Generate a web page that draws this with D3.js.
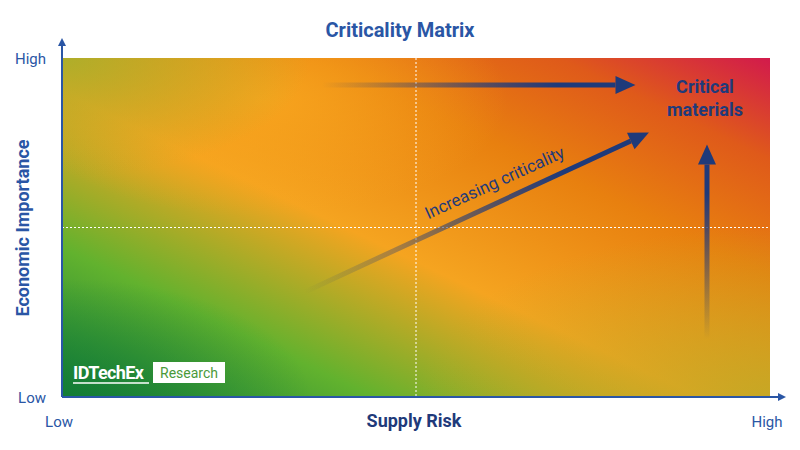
<!DOCTYPE html>
<html><head><meta charset="utf-8">
<script src="https://cdn.jsdelivr.net/npm/d3@7"></script>
<style>body{margin:0;background:#fff}text{font-family:Roboto,"Open Sans",sans-serif}</style>
</head><body><svg id="c" width="800" height="450"></svg>
<script>
const title = "Criticality Matrix";
const xLabel = "Supply Risk", yLabel = "Economic Importance";
const tickLabels = ["Low", "High"];
const tickValues = [0, 1];
const dividers = [0.5];
const arrowNames = ["horizontal", "diagonal", "vertical"];
const arrowCoords = [[0.367,0.92,0.81,0.92],[0.343,0.31,0.829,0.78],[0.911,0.17,0.911,0.745]];
const labelText = "Increasing criticality";
const criticalText = ["Critical", "materials"];

const svg = d3.select("#c");
const m = {l:62, r:770, t:58, b:397};
const x = d3.scaleLinear().domain([0,1]).range([m.l, m.r]);
const y = d3.scaleLinear().domain([0,1]).range([m.b, m.t]);
const defs = svg.append("defs");
const navy = "#1f3a7a";

const lg = defs.append("linearGradient").attr("id","base").attr("x1","0").attr("y1","1").attr("x2","1").attr("y2","0");
[[0,"#14803a"],[0.22,"#62b22e"],[0.45,"#f5a420"],[0.68,"#e8800f"],[0.85,"#df5a1a"],[1,"#d21a4c"]].forEach(s=>lg.append("stop").attr("offset",s[0]).attr("stop-color",s[1]));
function radial(id,cx,cy,r,col,op){
  const g=defs.append("radialGradient").attr("id",id).attr("cx",cx).attr("cy",cy).attr("r",r);
  g.append("stop").attr("offset",0).attr("stop-color",col).attr("stop-opacity",op);
  g.append("stop").attr("offset",1).attr("stop-color",col).attr("stop-opacity",0);
}
radial("mid",0.28,0.12,0.35,"#f8a61e",0.9);
radial("tl",0,0,0.35,"#a2b12c",0.85);
radial("br",1,1,0.5,"#bcaa26",0.8);
radial("bl",0,1,0.35,"#127a34",0.7);
const W=m.r-m.l,H=m.b-m.t;
["base","mid","tl","br","bl"].forEach(id=>svg.append("rect").attr("x",m.l).attr("y",m.t).attr("width",W).attr("height",H).attr("fill",`url(#${id})`));

svg.append("line").attr("x1",x(dividers[0])).attr("x2",x(dividers[0])).attr("y1",m.t).attr("y2",m.b).attr("stroke","#fff").attr("stroke-dasharray","2,2").attr("stroke-width",1);
svg.append("line").attr("x1",m.l).attr("x2",m.r).attr("y1",y(dividers[0])).attr("y2",y(dividers[0])).attr("stroke","#fff").attr("stroke-dasharray","2,2").attr("stroke-width",1);

const ah = defs.append("marker").attr("id","ax").attr("viewBox","0 0 10 10").attr("refX",5).attr("refY",5).attr("markerWidth",4).attr("markerHeight",4).attr("orient","auto");
ah.append("path").attr("d","M0,0L10,5L0,10z").attr("fill","#2a56a5");
svg.append("line").attr("x1",m.l).attr("y1",m.b).attr("x2",782).attr("y2",m.b).attr("stroke","#2a56a5").attr("stroke-width",2).attr("marker-end","url(#ax)");
svg.append("line").attr("x1",m.l).attr("y1",m.b).attr("x2",m.l).attr("y2",42).attr("stroke","#2a56a5").attr("stroke-width",2).attr("marker-end","url(#ax)");
const tc="#2a56a5";
svg.append("text").attr("x",m.l-16).attr("y",y(tickValues[1])+6).attr("text-anchor","end").attr("font-size",15).attr("fill",tc).text(tickLabels[1]);
svg.append("text").attr("x",m.l-16).attr("y",y(tickValues[0])+6).attr("text-anchor","end").attr("font-size",15).attr("fill",tc).text(tickLabels[0]);
svg.append("text").attr("x",x(tickValues[0])-3).attr("y",427).attr("text-anchor","middle").attr("font-size",15).attr("fill",tc).text(tickLabels[0]);
svg.append("text").attr("x",x(tickValues[1])-3).attr("y",427).attr("text-anchor","middle").attr("font-size",15).attr("fill",tc).text(tickLabels[1]);
svg.append("text").attr("x",414).attr("y",427).attr("text-anchor","middle").attr("font-size",18).attr("font-weight","bold").attr("fill",navy).text(xLabel);
svg.append("text").attr("transform","translate(29,228) rotate(-90)").attr("text-anchor","middle").attr("font-size",18).attr("font-weight","bold").attr("fill","#2a56a5").text(yLabel);
svg.append("text").attr("x",400).attr("y",37).attr("text-anchor","middle").attr("font-size",20).attr("font-weight","bold").attr("fill","#2a56a5").text(title);

arrowCoords.forEach((a,i)=>{
  const [x1,y1,x2,y2]=[x(a[0]),y(a[1]),x(a[2]),y(a[3])];
  const g=defs.append("linearGradient").attr("id","ag"+i).attr("gradientUnits","userSpaceOnUse").attr("x1",x1).attr("y1",y1).attr("x2",x2).attr("y2",y2);
  g.append("stop").attr("offset",0).attr("stop-color",navy).attr("stop-opacity",0);
  g.append("stop").attr("offset",0.75).attr("stop-color",navy).attr("stop-opacity",1);
  const ang=Math.atan2(y2-y1,x2-x1), hl=20, hw=9;
  const bx=x2-hl*Math.cos(ang), by=y2-hl*Math.sin(ang);
  svg.append("line").attr("class",arrowNames[i]).attr("x1",x1).attr("y1",y1).attr("x2",bx).attr("y2",by).attr("stroke",`url(#ag${i})`).attr("stroke-width",5);
  const px=-Math.sin(ang)*hw, py=Math.cos(ang)*hw;
  svg.append("path").attr("d",`M${x2},${y2}L${bx+px},${by+py}L${bx-px},${by-py}Z`).attr("fill",navy);
});
svg.append("text").attr("transform","translate(497,188) rotate(-24.5)").attr("text-anchor","middle").attr("font-size",17).attr("fill",navy).text(labelText);
criticalText.forEach((t,i)=>svg.append("text").attr("x",705).attr("y",93+i*23).attr("text-anchor","middle").attr("font-size",18).attr("font-weight","bold").attr("fill",navy).text(t));

svg.append("text").attr("x",73).attr("y",379).attr("font-size",18).attr("font-weight","bold").attr("fill","#fff").attr("letter-spacing","-0.6").text("IDTechEx");
svg.append("line").attr("x1",73).attr("x2",149).attr("y1",383).attr("y2",383).attr("stroke","#fff").attr("stroke-width",1.5);
svg.append("rect").attr("x",153).attr("y",362).attr("width",72).attr("height",21).attr("fill","#fff");
svg.append("text").attr("x",189).attr("y",378).attr("text-anchor","middle").attr("font-size",14).attr("fill","#4a9a3a").text("Research");
</script></body></html>
